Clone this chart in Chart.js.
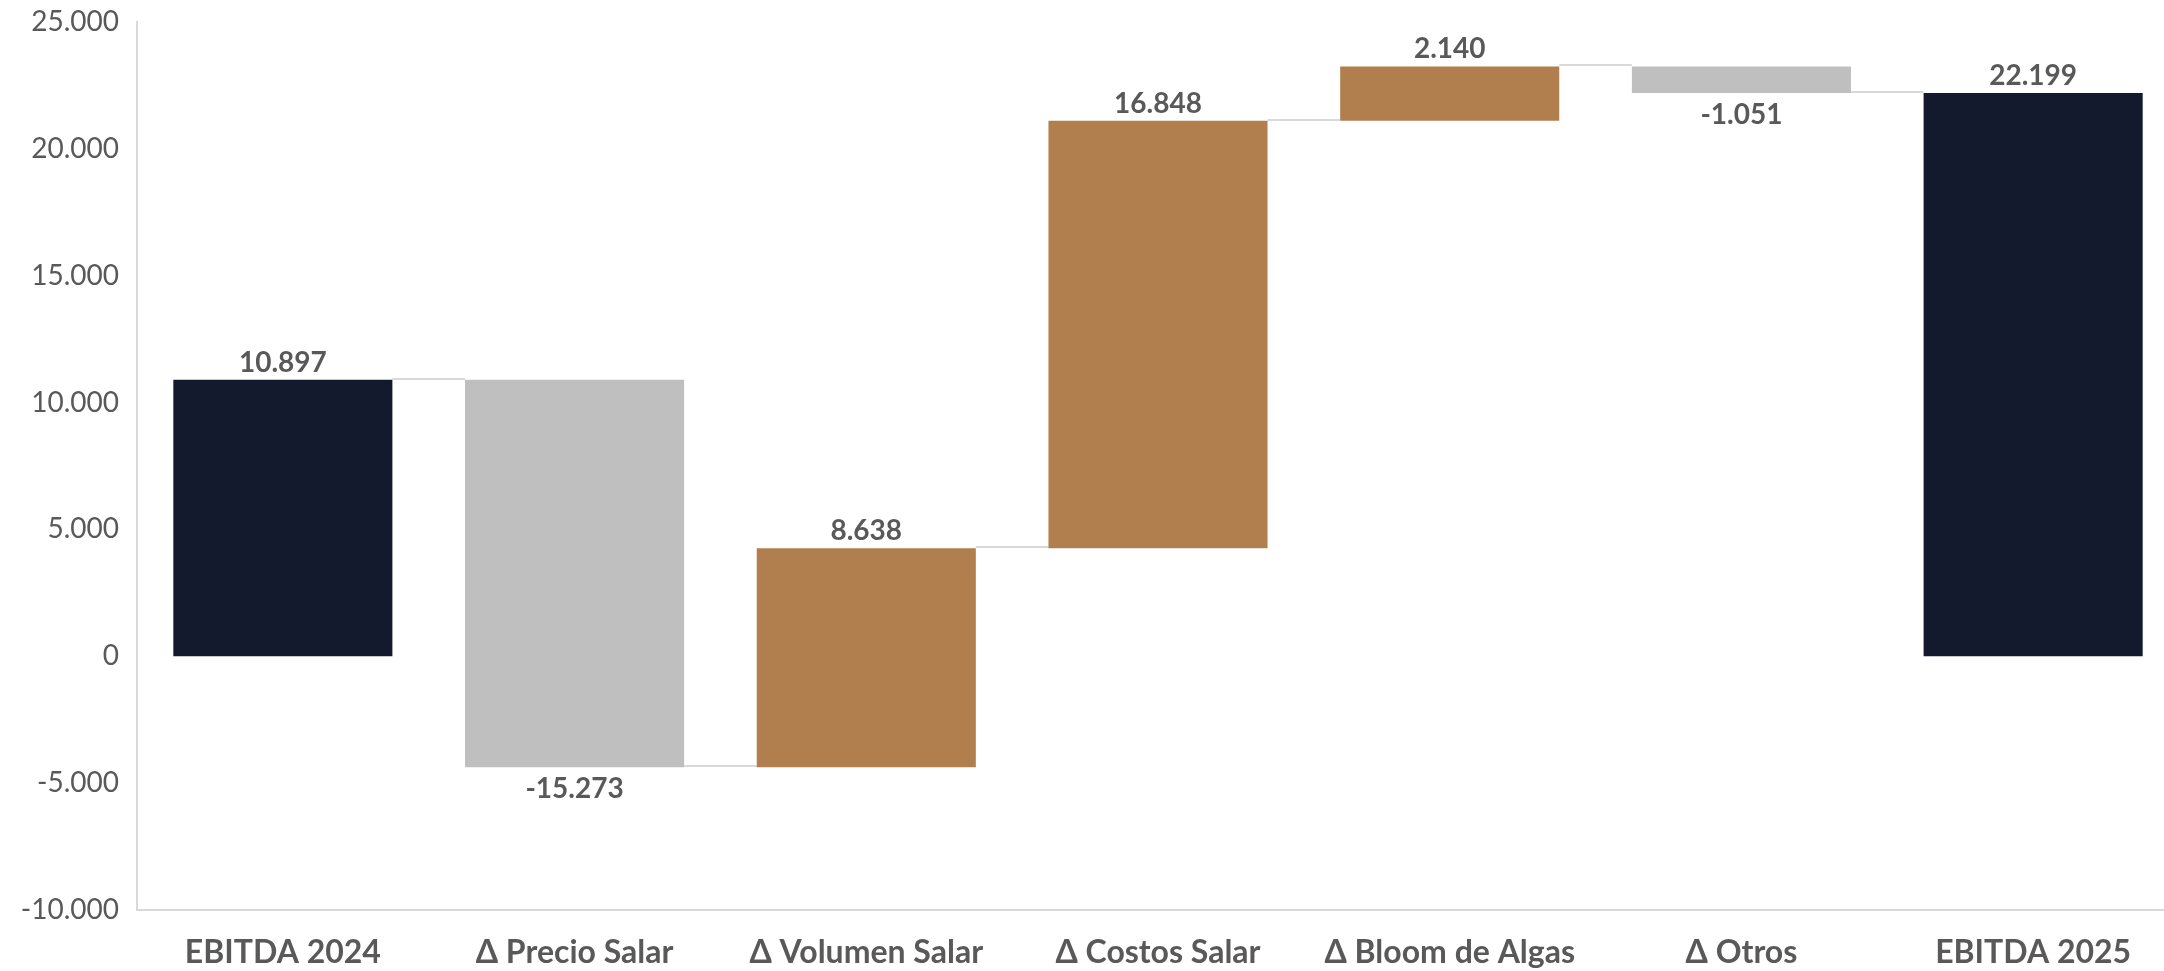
<!DOCTYPE html>
<html lang="es">
<head>
<meta charset="utf-8">
<title>EBITDA 2024 – 2025</title>
<script src="https://cdn.jsdelivr.net/npm/chart.js@4.4.1/dist/chart.umd.min.js"></script>
<style>
  html, body { margin: 0; padding: 0; background: #ffffff; overflow: hidden; }
  #wrap { position: relative; width: 2180px; height: 971px; }
</style>
</head>
<body>
<div id="wrap"><canvas id="chart"></canvas></div>
<script>
// Bridge categories and their values (USD miles)
const categories = ['EBITDA 2024', 'Δ Precio Salar', 'Δ Volumen Salar', 'Δ Costos Salar', 'Δ Bloom de Algas', 'Δ Otros', 'EBITDA 2025'];
const values = [10897, -15273, 8638, 16848, 2140, -1051, 22199];
const kinds = ['total', 'delta', 'delta', 'delta', 'delta', 'delta', 'total'];
const yTicks = [-10000, -5000, 0, 5000, 10000, 15000, 20000, 25000];

const COLORS = { total: '#141A2E', up: '#B17F4D', down: '#BFBFBF' };
const TEXT = '#595959';
const LINE = '#D9D9D9';

function fmt(v) {
  const s = Math.abs(v).toString().replace(/\B(?=(\d{3})+(?!\d))/g, '.');
  return (v < 0 ? '-' : '') + s;
}

// Floating segments: totals start at zero, deltas start at the running total
const ranges = [];
const levels = [];
let running = 0;
values.forEach((v, i) => {
  if (kinds[i] === 'total') {
    ranges.push([0, v]);
    running = v;
  } else {
    ranges.push([running, running + v]);
    running += v;
  }
  levels.push(running);
});
const barColors = values.map((v, i) => kinds[i] === 'total' ? COLORS.total : (v < 0 ? COLORS.down : COLORS.up));

// Thin connectors between consecutive bars at the running level
const connectors = {
  id: 'connectors',
  beforeDatasetsDraw(chart) {
    const meta = chart.getDatasetMeta(0);
    const y = chart.scales.y;
    const ctx = chart.ctx;
    ctx.save();
    ctx.strokeStyle = LINE;
    ctx.lineWidth = 2;
    for (let i = 0; i < meta.data.length - 1; i++) {
      const a = meta.data[i], b = meta.data[i + 1];
      const py = Math.round(y.getPixelForValue(levels[i])) - 1;
      ctx.beginPath();
      ctx.moveTo(a.x + a.width / 2, py);
      ctx.lineTo(b.x - b.width / 2, py);
      ctx.stroke();
    }
    ctx.restore();
  }
};

// Value labels above rising bars and below falling bars
const valueLabels = {
  id: 'valueLabels',
  afterDatasetsDraw(chart) {
    const meta = chart.getDatasetMeta(0);
    const y = chart.scales.y;
    const ctx = chart.ctx;
    ctx.save();
    ctx.fillStyle = TEXT;
    ctx.font = 'bold 28px Lato';
    ctx.textAlign = 'center';
    meta.data.forEach((bar, i) => {
      const v = values[i];
      const [s, e] = ranges[i];
      if (v >= 0) {
        ctx.textBaseline = 'bottom';
        ctx.fillText(fmt(v), bar.x, y.getPixelForValue(Math.max(s, e)) - 3);
      } else {
        ctx.textBaseline = 'top';
        ctx.fillText(fmt(v), bar.x, y.getPixelForValue(Math.min(s, e)) + 8);
      }
    });
    ctx.restore();
  }
};

new Chart(document.getElementById('chart'), {
  type: 'bar',
  data: {
    labels: categories,
    datasets: [{
      data: ranges,
      backgroundColor: barColors,
      borderWidth: 0,
      borderSkipped: false,
      categoryPercentage: 1,
      barPercentage: 0.751
    }]
  },
  options: {
    responsive: true,
    maintainAspectRatio: false,
    animation: false,
    layout: { padding: { top: 22, right: 1, left: 0, bottom: 0 } },
    plugins: { legend: { display: false }, tooltip: { enabled: false } },
    scales: {
      x: {
        grid: { display: false, drawTicks: false },
        border: { display: true, color: LINE, width: 2 },
        ticks: { color: TEXT, font: { family: 'Lato', size: 32, weight: 'bold' }, padding: 23, maxRotation: 0, autoSkip: false },
        afterFit(scale) { scale.height = 61; }
      },
      y: {
        min: yTicks[0],
        max: yTicks[yTicks.length - 1],
        grid: { display: false, drawTicks: false },
        border: { display: true, color: LINE, width: 2 },
        afterBuildTicks(scale) { scale.ticks = yTicks.map(v => ({ value: v })); },
        ticks: {
          color: TEXT,
          font: { family: 'Lato', size: 28 },
          padding: 18,
          callback: (v) => fmt(v)
        },
        afterFit(scale) { scale.width = 137; scale.paddingTop = 0; scale.paddingBottom = 0; }
      }
    }
  },
  plugins: [connectors, valueLabels]
});
</script>
</body>
</html>
